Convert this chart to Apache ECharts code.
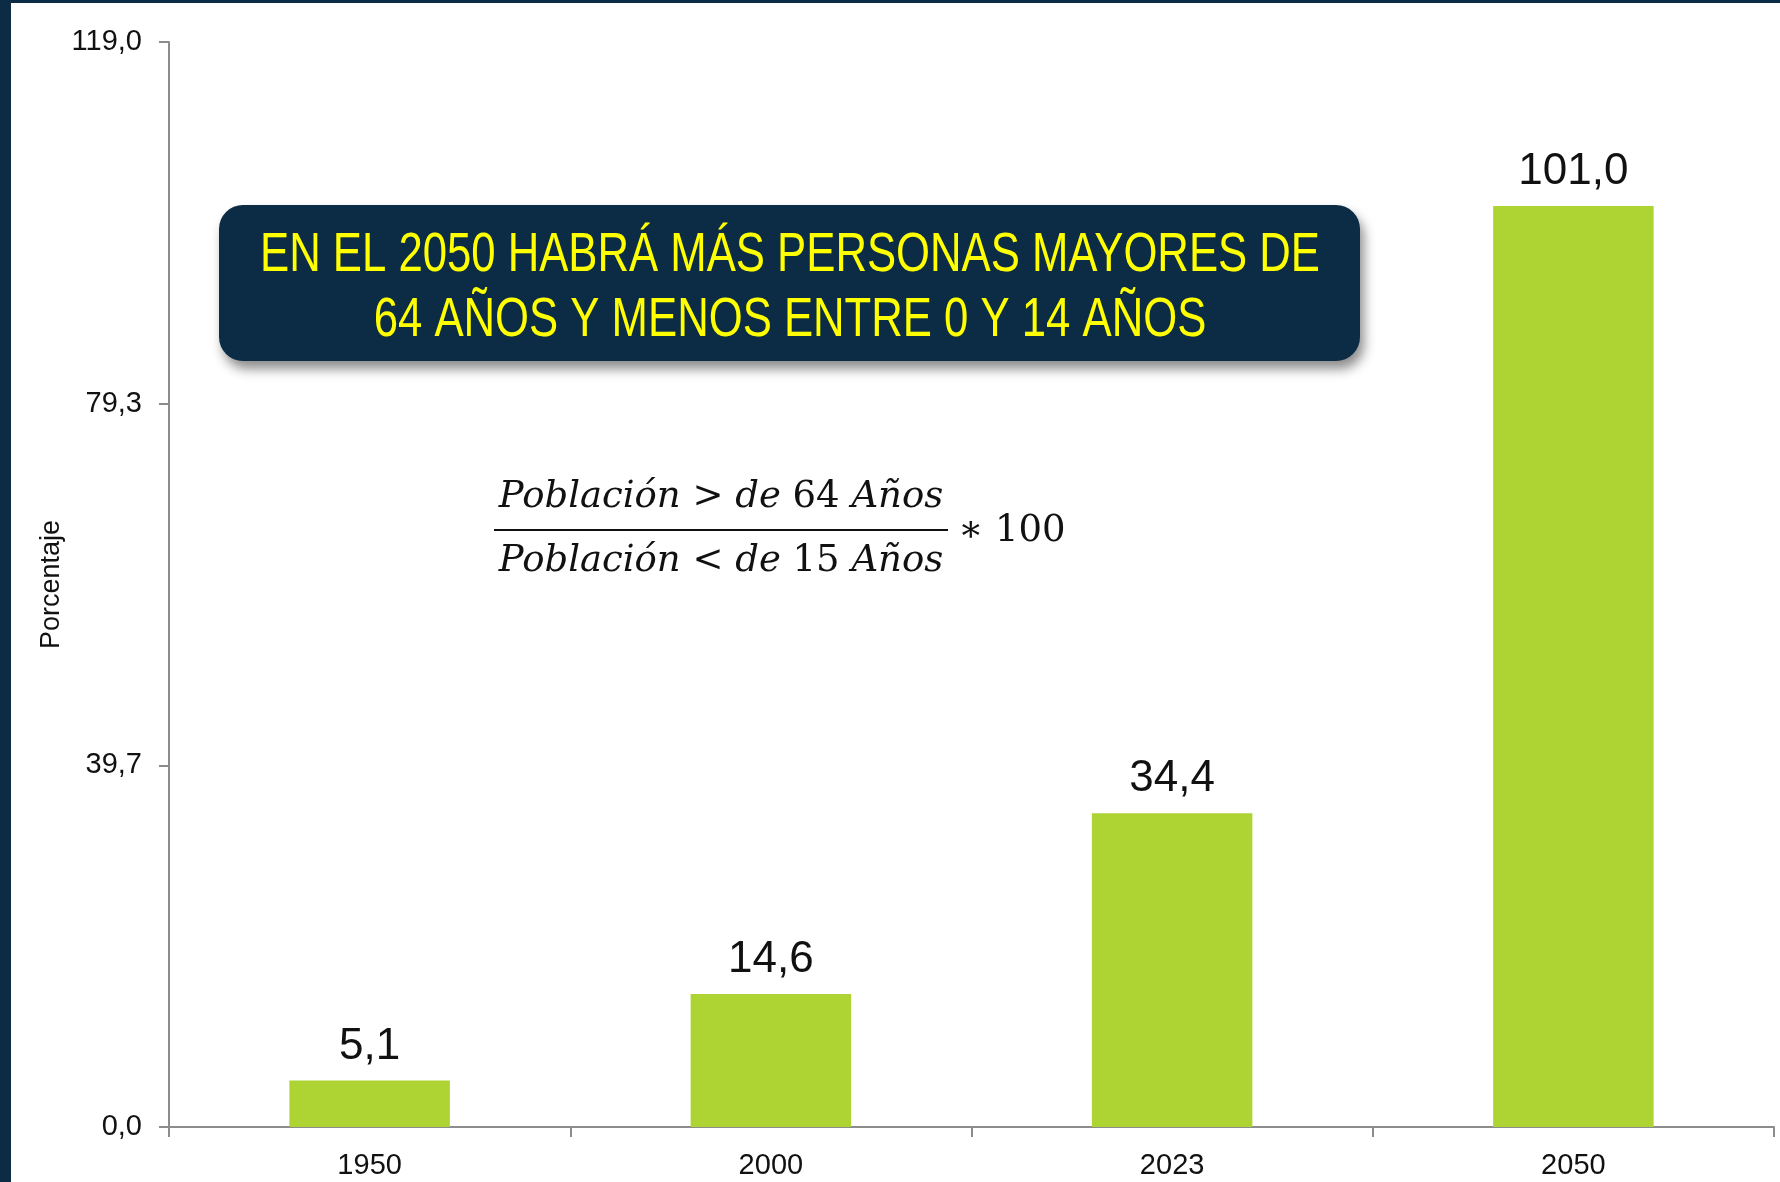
<!DOCTYPE html>
<html>
<head>
<meta charset="utf-8">
<script src="https://cdn.jsdelivr.net/npm/echarts@6/dist/echarts.min.js"></script>
<style>
  html, body { margin: 0; padding: 0; background: #fff; }
  #chart { width: 1780px; height: 1182px; }
</style>
</head>
<body>
<div id="chart"></div>
<script>
// datos del gráfico
const years = ['1950', '2000', '2023', '2050']
const values = [5.1, 14.6, 34.4, 101.0]
const yMax = 119.0
const yTicks = ['0,0', '39,7', '79,3', '119,0']

const navy = '#0B2C44'
const sans = '"Liberation Sans", Arial, sans-serif'
const serif = '"DejaVu Serif", "Liberation Serif", serif'
const sp = '\u00A0'

const fmt = v => v.toFixed(1).replace('.', ',')

const chart = echarts.init(document.getElementById('chart'))

const fracStyles = {
  i: { fontFamily: serif, fontStyle: 'italic', fontSize: 37, fill: '#111' },
  n: { fontFamily: serif, fontStyle: 'normal', fontSize: 37, fill: '#111' }
}

chart.setOption({
  backgroundColor: '#fff',
  animation: false,
  grid: { left: 169, right: 6, top: 42, bottom: 55 },
  xAxis: {
    type: 'category',
    data: years,
    axisLine: { lineStyle: { color: '#8C8C8C', width: 2 } },
    axisTick: { show: true, length: 10, lineStyle: { color: '#8C8C8C', width: 2 } },
    axisLabel: { color: '#111', fontFamily: sans, fontSize: 29, margin: 24 }
  },
  yAxis: {
    type: 'value',
    min: 0,
    max: yMax,
    interval: yMax / 3,
    name: 'Porcentaje',
    nameLocation: 'middle',
    nameGap: 104,
    nameRotate: 90,
    nameMoveOverlap: false,
    nameTextStyle: { color: '#111', fontFamily: sans, fontSize: 27 },
    axisLine: { show: true, lineStyle: { color: '#8C8C8C', width: 2 } },
    axisTick: { show: true, length: 10, lineStyle: { color: '#8C8C8C', width: 2 } },
    splitLine: { show: false },
    axisLabel: {
      color: '#111',
      fontFamily: sans,
      fontSize: 29,
      margin: 27,
      formatter: (v, i) => yTicks[i]
    }
  },
  series: [{
    type: 'bar',
    data: values,
    barWidth: '40%',
    itemStyle: { color: '#ADD433' },
    label: {
      show: true,
      position: 'top',
      distance: 12,
      color: '#111',
      fontFamily: sans,
      fontSize: 44,
      formatter: p => fmt(p.value)
    }
  }],
  graphic: [
    { type: 'rect', left: 0, top: 0, shape: { width: 11, height: 1182 }, style: { fill: navy }, z: 100 },
    { type: 'rect', left: 0, top: 0, shape: { width: 1780, height: 3 }, style: { fill: navy }, z: 100 },
    {
      type: 'rect',
      shape: { x: 219, y: 205, width: 1141, height: 156, r: 24 },
      style: {
        fill: navy,
        shadowBlur: 12,
        shadowOffsetX: 4,
        shadowOffsetY: 8,
        shadowColor: 'rgba(0,0,0,0.45)'
      },
      z: 50
    },
    {
      type: 'text',
      x: 790, y: 256,
      scaleX: 0.78,
      style: {
        text: 'EN EL 2050 HABRÁ MÁS PERSONAS MAYORES DE',
        fill: '#FFFF00', fontFamily: sans, fontSize: 56,
        align: 'center', verticalAlign: 'middle'
      },
      z: 51
    },
    {
      type: 'text',
      x: 790, y: 321,
      scaleX: 0.78,
      style: {
        text: '64 AÑOS Y MENOS ENTRE 0 Y 14 AÑOS',
        fill: '#FFFF00', fontFamily: sans, fontSize: 56,
        align: 'center', verticalAlign: 'middle'
      },
      z: 51
    },
    // fórmula del índice
    {
      type: 'text',
      x: 721, y: 497,
      style: {
        text: `{i|Población}{n|${sp}>${sp}}{i|de}{n|${sp}64${sp}}{i|Años}`,
        rich: fracStyles,
        align: 'center', verticalAlign: 'middle'
      },
      z: 51
    },
    {
      type: 'line',
      shape: { x1: 494, y1: 530, x2: 948, y2: 530 },
      style: { stroke: '#111', lineWidth: 2 },
      z: 51
    },
    {
      type: 'text',
      x: 721, y: 561,
      style: {
        text: `{i|Población}{n|${sp}<${sp}}{i|de}{n|${sp}15${sp}}{i|Años}`,
        rich: fracStyles,
        align: 'center', verticalAlign: 'middle'
      },
      z: 51
    },
    {
      type: 'text',
      x: 958, y: 531,
      style: {
        text: `{n|∗${sp}100}`,
        rich: fracStyles,
        align: 'left', verticalAlign: 'middle'
      },
      z: 51
    }
  ]
})
</script>
</body>
</html>
